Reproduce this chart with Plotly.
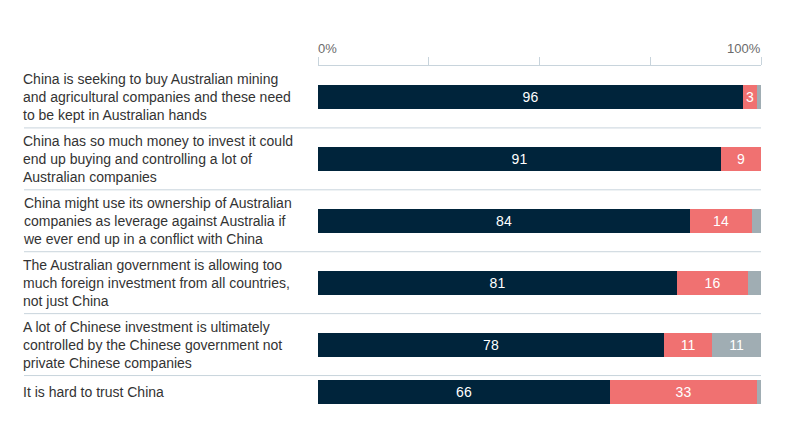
import plotly.graph_objects as go

categories = [
    "China is seeking to buy Australian mining<br>and agricultural companies and these need<br>to be kept in Australian hands",
    "China has so much money to invest it could<br>end up buying and controlling a lot of<br>Australian companies",
    "China might use its ownership of Australian<br>companies as leverage against Australia if<br>we ever end up in a conflict with China",
    "The Australian government is allowing too<br>much foreign investment from all countries,<br>not just China",
    "A lot of Chinese investment is ultimately<br>controlled by the Chinese government not<br>private Chinese companies",
    "It is hard to trust China",
]
series_names = ["Agree", "Disagree", "Don't know"]
agree = [96, 91, 84, 81, 78, 66]
disagree = [3, 9, 14, 16, 11, 33]
dont_know = [1, 0, 2, 3, 11, 1]
colors = ["#00243b", "#f07171", "#a0adb3"]
min_label = [3, 3, 5]
tick_vals = [0, 25, 50, 75, 100]
tick_text = {0: "0%", 100: "100%"}

# row layout derived from number of label lines
LINE_H = 17.5
BAR_H = 24
PAD = 9.5
heights = [max(LINE_H * (c.count("<br>") + 1), BAR_H) + PAD for c in categories]
tops = []
acc = 0
for h in heights:
    tops.append(acc)
    acc += h
total = acc
centers = [t + h / 2 for t, h in zip(tops, heights)]

W, H = 785, 436
ml, mr, mt = 318, 24, 66
plot_h = total
mb = H - mt - plot_h
plot_w = W - ml - mr
label_x = (24 - ml) / plot_w

fig = go.Figure()
for name, vals, col, mn in zip(series_names, [agree, disagree, dont_know], colors, min_label):
    fig.add_trace(go.Bar(
        y=centers, x=vals, name=name, orientation="h",
        marker=dict(color=col, line=dict(width=0)),
        width=BAR_H,
        text=[str(v) if v >= mn else "" for v in vals],
        textposition="inside", insidetextanchor="middle",
        textfont=dict(color="white", size=14, family="Liberation Sans, Arial, sans-serif"),
        hoverinfo="x+name",
    ))

annotations = []
for c, yc in zip(categories, centers):
    annotations.append(dict(
        x=label_x, xref="paper", y=yc, yref="y", text=c, showarrow=False,
        xanchor="left", yanchor="middle", align="left", xshift=-3,
        font=dict(size=14, color="#333333", family="Liberation Sans, Arial, sans-serif"),
    ))
for v, t in tick_text.items():
    annotations.append(dict(
        x=v, xref="x", y=1, yref="paper", yshift=8, text=t, showarrow=False,
        xanchor="left" if v == 0 else "right", yanchor="bottom",
        xshift=-2 if v == 0 else 2,
        font=dict(size=13, color="#6b6b6b", family="Liberation Sans, Arial, sans-serif"),
    ))

shapes = []
for t in tops[1:]:
    shapes.append(dict(type="line", xref="paper", yref="y", x0=label_x, x1=1, y0=t, y1=t,
                       line=dict(color="#c8d4dc", width=1)))

fig.update_layout(
    width=W, height=H,
    margin=dict(l=ml, r=mr, t=mt, b=mb, pad=0),
    barmode="stack", bargap=0,
    showlegend=False,
    plot_bgcolor="white", paper_bgcolor="white",
    xaxis=dict(range=[0, 100], side="top", showgrid=False, zeroline=False,
               showline=True, linecolor="#c8d4dc", linewidth=1,
               ticks="outside", ticklen=8, tickcolor="#c8d4dc", tickwidth=1,
               tickvals=tick_vals, showticklabels=False, fixedrange=True),
    yaxis=dict(range=[total, 0], showgrid=False, zeroline=False, showline=False,
               showticklabels=False, ticks="", fixedrange=True),
    annotations=annotations, shapes=shapes,
    font=dict(family="Liberation Sans, Arial, sans-serif"),
)

fig.write_html("out.html")
